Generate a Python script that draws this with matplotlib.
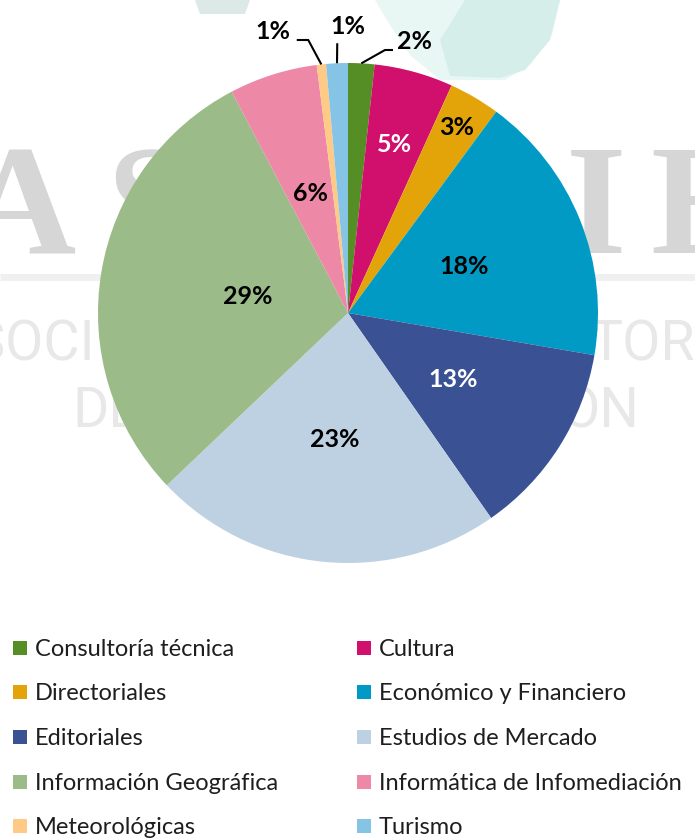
import numpy as np
import matplotlib
matplotlib.use("Agg")
import matplotlib.pyplot as plt
from matplotlib.patches import Rectangle, Polygon

# ---- data ----
categories = ["Consultoría técnica", "Cultura", "Directoriales", "Económico y Financiero",
              "Editoriales", "Estudios de Mercado", "Información Geográfica",
              "Informática de Infomediación", "Meteorológicas", "Turismo"]
values = [1.7, 5.1, 3.3, 17.6, 12.6, 22.6, 29.4, 5.7, 0.6, 1.4]
colors = ["#558E24", "#D0106C", "#E3A40A", "#019AC5", "#3A5194",
          "#BED1E2", "#9BBB88", "#EE88A7", "#FECA86", "#86C4E5"]
label_colors = ["black", "white", "black", "black", "white",
                "black", "black", "black", "black", "black"]

# ---- layout ----
W, H = 695, 838
inside_r = [None, 0.70, 0.86, 0.5, 0.5, 0.51, 0.405, 0.5, None, None]
# outside label text positions & leader elbow points (axes data units)
outside = {
    0: dict(text=(0.268, 1.088), path=[(0.148, 1.052), (0.18, 1.052)]),
    9: dict(text=(0.0, 1.148), path=[(-0.043, 1.079)]),
    8: dict(text=(-0.30, 1.128), path=[(-0.159, 1.092), (-0.205, 1.092)]),
}
FONT = ["Lato", "DejaVu Sans"]

fig = plt.figure(figsize=(W / 100, H / 100), dpi=100)
fig.patch.set_facecolor("white")

# background / watermark axes in pixel coordinates
bg = fig.add_axes([0, 0, 1, 1], zorder=0)
bg.set_xlim(0, W)
bg.set_ylim(H, 0)
bg.axis("off")

bg.add_patch(Polygon([(375, 0), (560, 0), (552, 35), (530, 65), (505, 80), (440, 80),
                      (410, 55), (390, 25)], closed=True, facecolor="#E9F7F4", edgecolor="none"))
bg.add_patch(Polygon([(465, 0), (560, 0), (550, 40), (525, 70), (500, 78), (450, 76),
                      (440, 40)], closed=True, facecolor="#D6EEE9", edgecolor="none"))
bg.add_patch(Polygon([(195, 0), (250, 0), (245, 14), (200, 14)], closed=True,
                     facecolor="#DDE9E6", edgecolor="none"))

# visible parts of the watermark logo
for ch, xc in [("A", 20), ("S", 150), ("I", 596), ("E", 702)]:
    bg.text(xc, 253, ch, fontsize=112, family="Liberation Serif", fontweight="bold",
            color="#D6D6D6", ha="center", va="baseline")
bg.plot([0, W], [277, 277], color="#F0F0F0", lw=5, solid_capstyle="butt")
bg.text(95, 360, "ASOCI", fontsize=40, family="Roboto",
        color="#E8E8E8", ha="right", va="baseline")
bg.text(590, 360, "TORIAL", fontsize=40, family="Roboto",
        color="#E8E8E8", ha="left", va="baseline")
bg.text(72, 427, "DE", fontsize=40, family="Roboto",
        color="#E8E8E8", ha="left", va="baseline")
bg.text(640, 427, "ÓN", fontsize=40, family="Roboto",
        color="#E8E8E8", ha="right", va="baseline")

# pie axes: centre (348, 313) px, radius 250 px
cx, cy, r = 348, 313, 250
ax = fig.add_axes([(cx - r) / W, (H - cy - r) / H, 2 * r / W, 2 * r / H], zorder=1)
ax.patch.set_alpha(0)
wedges, _ = ax.pie(values, colors=colors, startangle=90, counterclock=False,
                   radius=1, wedgeprops=dict(linewidth=0))
ax.set_xlim(-1, 1)
ax.set_ylim(-1, 1)
ax.set_aspect("equal")
ax.axis("off")

total = sum(values)
for i, w in enumerate(wedges):
    pct = f"{round(values[i] / total * 100):.0f}%"
    ang = np.deg2rad((w.theta1 + w.theta2) / 2)
    dx, dy = np.cos(ang), np.sin(ang)
    if inside_r[i] is not None:
        ax.text(inside_r[i] * dx, inside_r[i] * dy, pct, ha="center", va="center",
                fontsize=18, fontweight="bold", family=FONT, color=label_colors[i])
    else:
        o = outside[i]
        pts = [(dx, dy)] + o["path"]
        xs, ys = zip(*pts)
        ax.plot(xs, ys, color="black", lw=1.5, clip_on=False, solid_capstyle="butt")
        ax.text(*o["text"], pct, ha="center", va="center", fontsize=18,
                fontweight="bold", family=FONT, color="black", clip_on=False)

# legend (pixel coordinates)
rows_y = [648, 692, 737, 782, 826]
col_x = [13, 357]
for i, (cat, col) in enumerate(zip(categories, colors)):
    x0 = col_x[i % 2]
    y0 = rows_y[i // 2]
    bg.add_patch(Rectangle((x0, y0 - 7), 14, 14, facecolor=col, edgecolor="none", zorder=3))
    bg.text(x0 + 22, y0 + 1, cat, fontsize=17, family=FONT, color="#1E1E1E",
            ha="left", va="center", zorder=3)

fig.savefig("out.png", dpi=100, facecolor="white")
